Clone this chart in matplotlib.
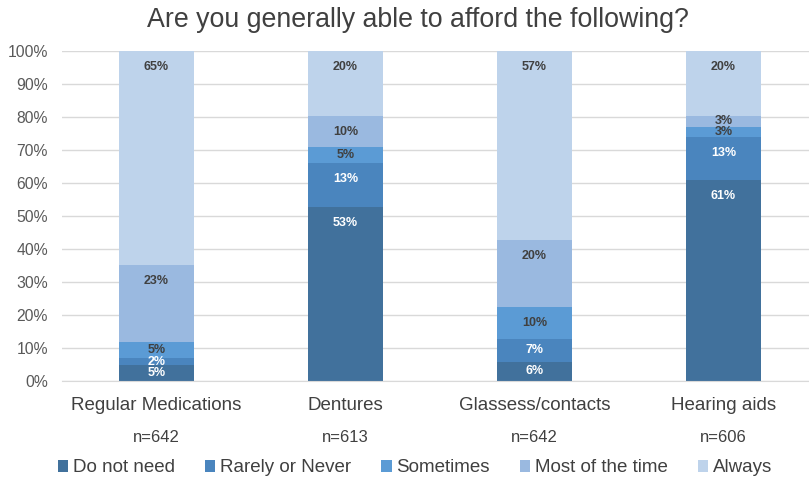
import matplotlib.pyplot as plt
import numpy as np

plt.rcParams['font.family'] = ['Liberation Sans', 'DejaVu Sans']

# Data (percent of respondents)
categories = ['Regular Medications', 'Dentures', 'Glassess/contacts', 'Hearing aids']
sample_sizes = ['n=642', 'n=613', 'n=642', 'n=606']
responses = ['Do not need', 'Rarely or Never', 'Sometimes', 'Most of the time', 'Always']

do_not_need = [4.6, 52.8, 5.8, 60.8]
rarely_never = [2.2, 13.3, 6.8, 13.2]
sometimes = [4.9, 4.6, 9.8, 3.0]
most_of_time = [23.4, 9.6, 20.3, 3.3]
always = [64.9, 19.7, 57.3, 19.7]

series = [do_not_need, rarely_never, sometimes, most_of_time, always]
colors = ['#41719C', '#4A85BE', '#5B9BD5', '#9AB9E0', '#BED3EB']
label_colors = ['white', 'white', '#404040', '#404040', '#404040']

fig = plt.figure(figsize=(8.09, 4.8), dpi=100)
ax = fig.add_axes([62 / 809, 0.207, 756 / 809, 0.687])

x = np.arange(len(categories))
bottom = np.zeros(len(categories))
for vals, col, lcol, name in zip(series, colors, label_colors, responses):
    vals = np.array(vals)
    ax.bar(x, vals, 0.4, bottom=bottom, color=col, label=name, zorder=2)
    # labels sit near the inside end of each segment (centred if it is small)
    for xi, b, v in zip(x, bottom, vals):
        ax.text(xi, b + v - min(4.85, v / 2), f'{v:.0f}%', ha='center', va='center',
                fontsize=9, fontweight='bold', color=lcol, zorder=3)
    bottom += vals

ax.set_xlim(-0.5, len(categories) - 0.5)
ax.set_ylim(0, 100)
ax.set_yticks(np.arange(0, 101, 10))
ax.set_yticklabels([f'{t}%' for t in range(0, 101, 10)])
ax.tick_params(axis='y', length=0, labelsize=11.3, labelcolor='#595959', pad=10)
ax.set_xticks(x)
ax.set_xticklabels(categories)
ax.tick_params(axis='x', length=0, labelsize=13.5, labelcolor='#404040', pad=12)
for xi, n in zip(x, sample_sizes):
    ax.text(xi, -0.171, n, transform=ax.get_xaxis_transform(), ha='center',
            va='center', fontsize=12, color='#404040')

ax.grid(axis='y', color='#D9D9D9', linewidth=1, zorder=0)
for s in ['top', 'right', 'left']:
    ax.spines[s].set_visible(False)
ax.spines['bottom'].set_color('#D9D9D9')

fig.text(0.516, 0.958, 'Are you generally able to afford the following?', fontsize=19.3,
         color='#404040', ha='center', va='center')

fig.legend(loc='center', bbox_to_anchor=(0.513, 1 - 468 / 480), ncol=5, frameon=False,
           fontsize=13.5, handlelength=0.55, handleheight=0.55, handletextpad=0.25,
           columnspacing=1.6, labelcolor='#404040', borderaxespad=0)

fig.savefig('out.png', dpi=100)
